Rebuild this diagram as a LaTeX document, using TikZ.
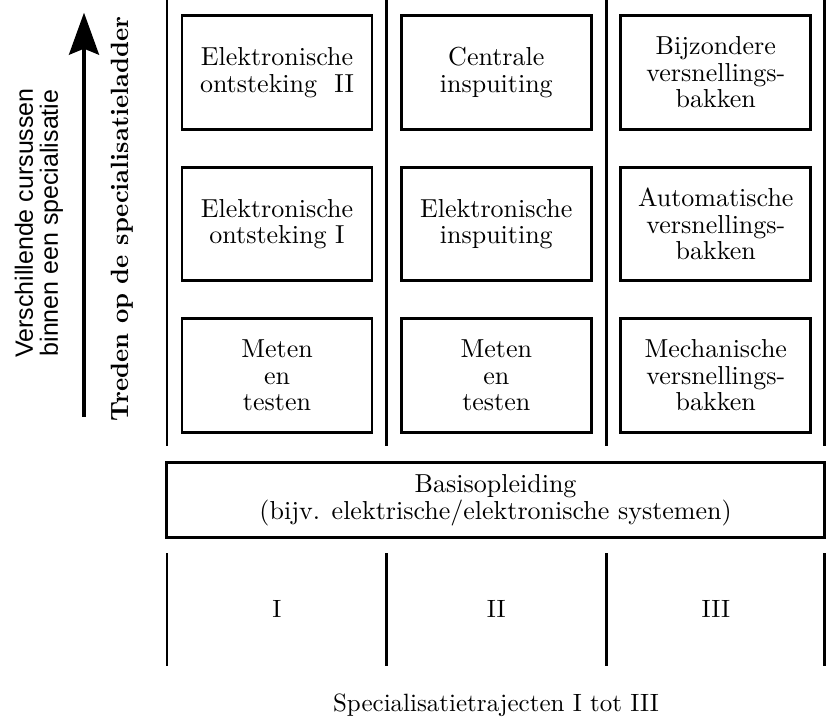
\documentclass[tikz,border=0pt]{standalone}
\usepackage{fontspec}
\setmainfont{lmroman10-regular.otf}[BoldFont=lmroman10-bold.otf]
\newfontfamily\sansf{Liberation Sans}
\usetikzlibrary{arrows.meta}
\begin{document}
\begin{tikzpicture}[x=1pt,y=-1pt,
  course/.style={draw,line width=2.8pt,minimum width=190pt,minimum height=113.6pt,
    inner sep=0pt,align=center,font=\fontsize{26}{26.6}\selectfont},
  sep/.style={line width=2.8pt},
  lbl/.style={inner sep=0pt,font=\fontsize{25}{25}\selectfont}]
\useasboundingbox (0,0) rectangle (826,717);
\fill[white] (0,0) rectangle (826,717);

% vertical separators
\foreach \x in {167,386.7,606.3,824.6}{
  \draw[sep] (\x,0) -- (\x,446);
  \draw[sep] (\x,553.3) -- (\x,666);
}

% course boxes
\node[course] (a1) at (277,72.5) {Elektronische\\ontsteking\ \ II};
\node[course] (a2) at (277,224) {Elektronische\\ontsteking I};
\node[course] (a3) at (277,375.3) {Meten\\en\\testen};
\node[course] (b1) at (496.3,72.5) {Centrale\\inspuiting};
\node[course] (b2) at (496.3,224) {Elektronische\\inspuiting};
\node[course] (b3) at (496.3,375.3) {Meten\\en\\testen};
\node[course] (c1) at (715.8,72.5) {Bijzondere\\versnellings-\\bakken};
\node[course] (c2) at (715.8,224) {Automatische\\versnellings-\\bakken};
\node[course] (c3) at (715.8,375.3) {Mechanische\\versnellings-\\bakken};

% basic training
\node[draw,line width=2.8pt,minimum width=657.9pt,minimum height=74.6pt,inner sep=0pt,
  align=center,font=\fontsize{26}{26.5}\selectfont] (basis) at (495.6,500)
  {Basisopleiding\\(bijv. elektrische/elektronische systemen)};

% track labels
\node[lbl] (t1) at (277,608.7) {I};
\node[lbl] (t2) at (496.3,608.7) {II};
\node[lbl] (t3) at (715.8,608.7) {III};
\node[lbl,anchor=base] (cap) at (496,711) {Specialisatietrajecten I tot III};

% left side
\coordinate (arrS) at (84,416.7);
\coordinate (arrE) at (84,12.7);
\draw[line width=3.3pt,-{Stealth[length=42pt,width=30pt,inset=6pt]}] (arrS) -- (arrE);
\node[rotate=90,inner sep=0pt,align=center,font=\sansf\fontsize{25}{25}\selectfont] (vc) at (39,223)
  {Verschillende cursussen\\binnen een specialisatie};
\node[rotate=90,anchor=base,inner sep=0pt,font=\bfseries\fontsize{25}{25}\selectfont] (tr) at (128,219)
  {Treden op de specialisatieladder};
\end{tikzpicture}
\end{document}
